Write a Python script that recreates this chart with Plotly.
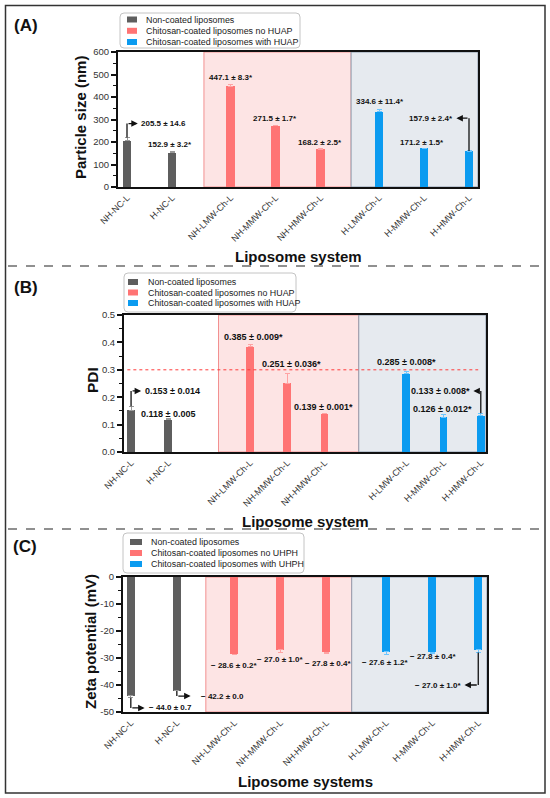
import plotly.graph_objects as go

W, H = 550, 798
FONT = "Liberation Sans, Arial, sans-serif"

# ── Data ──────────────────────────────────────────────────────────────────────
systems = ["NH-NC-L", "H-NC-L", "NH-LMW-Ch-L", "NH-MMW-Ch-L", "NH-HMW-Ch-L",
           "H-LMW-Ch-L", "H-MMW-Ch-L", "H-HMW-Ch-L"]
group_of = [0, 0, 1, 1, 1, 2, 2, 2]

size_mean = [205.5, 152.9, 447.1, 271.5, 168.2, 334.6, 171.2, 157.9]
size_sd = [14.6, 3.2, 8.3, 1.7, 2.5, 11.4, 1.5, 2.4]
size_sig = [False, True, True, True, True, True, True, True]

pdi_mean = [0.153, 0.118, 0.385, 0.251, 0.139, 0.285, 0.126, 0.133]
pdi_sd = [0.014, 0.005, 0.009, 0.036, 0.001, 0.008, 0.012, 0.008]
pdi_sig = [False, False, True, True, True, True, True, True]
PDI_LIMIT = 0.3

zeta_mean = [-44.0, -42.2, -28.6, -27.0, -27.8, -27.6, -27.8, -27.0]
zeta_sd = [0.7, 0.0, 0.2, 1.0, 0.4, 1.2, 0.4, 1.0]
zeta_sig = [False, False, True, True, True, True, True, True]

names_huap = ["Non-coated liposomes", "Chitosan-coated liposomes no HUAP",
              "Chitosan-coated liposomes with HUAP"]
names_uhph = ["Non-coated liposomes", "Chitosan-coated liposomes no UHPH",
              "Chitosan-coated liposomes with UHPH"]

# ── Style ─────────────────────────────────────────────────────────────────────
BAR = ["#5e5e5e", "#ff7474", "#0b9bf0"]
ERR = ["#9a9a9a", "#ffa3a3", "#6cc6ff"]
PINK_BG, PINK_LINE = "#fde4e4", "#f29090"
BLUE_BG, BLUE_LINE = "#e6eaef", "#8e9cae"


def fx(x):
    return x / W


def fy(y):
    return 1 - y / H


fig = go.Figure()
shapes, annos = [], []


def panel(n, mean, sd, sig, fmt, cfg):
    xa = "x" if n == 1 else f"x{n}"
    ya = "y" if n == 1 else f"y{n}"
    pos = cfg["pos"]
    for g in range(3):
        idx = [i for i in range(len(mean)) if group_of[i] == g]
        neg = mean[idx[0]] < 0
        fig.add_trace(go.Bar(
            x=[pos[i] for i in idx], y=[mean[i] for i in idx],
            width=cfg["bw"], marker_color=BAR[g], marker_line_width=0,
            error_y=dict(type="data", symmetric=False,
                         array=[0 if neg else sd[i] for i in idx],
                         arrayminus=[sd[i] if neg else 0 for i in idx],
                         color=ERR[g], thickness=1, width=2.5),
            xaxis=xa, yaxis=ya, showlegend=False,
        ))

    # shaded groups
    for (x0, x1, bg, ln) in [(cfg["pink"][0], cfg["pink"][1], PINK_BG, PINK_LINE),
                             (cfg["pink"][1], cfg["range"][1], BLUE_BG, BLUE_LINE)]:
        shapes.append(dict(type="rect", xref=xa, yref=f"{ya} domain", x0=x0, x1=x1,
                           y0=0, y1=1, fillcolor=bg, line=dict(color=ln, width=1),
                           layer="below"))

    # value labels
    for i, (lx, ly, anc) in enumerate(cfg["labels"]):
        txt = fmt(mean[i], sd[i]) + ("*" if sig[i] else "")
        annos.append(dict(xref=xa, yref=ya, x=lx, y=ly, text=f"<b>{txt}</b>",
                          showarrow=False, xanchor=anc,
                          font=dict(family=FONT, size=cfg["lab"], color="#111")))

    # elbow arrows
    for (i, y_to, x_head) in cfg["elbows"]:
        y_from = mean[i] - sd[i] if mean[i] < 0 else mean[i] + sd[i]
        shapes.append(dict(type="line", xref=xa, yref=ya, x0=pos[i], x1=pos[i],
                           y0=y_from, y1=y_to, line=dict(color="#111", width=1.3)))
        annos.append(dict(xref=xa, yref=ya, x=x_head, y=y_to, ax=pos[i], ay=y_to,
                          axref=xa, ayref=ya, text="", showarrow=True, arrowhead=2,
                          arrowsize=1, arrowwidth=1.3, arrowcolor="#111", standoff=0))

    d = cfg["dom"]
    fig.update_layout(**{
        ("xaxis" if n == 1 else f"xaxis{n}"): dict(
            domain=[fx(d[0]), fx(d[1])], range=cfg["range"], anchor=ya,
            tickvals=pos, ticktext=systems, tickangle=-45, ticks="",
            tickfont=dict(family=FONT, size=9, color="#333"),
            showline=True, linecolor="#111", linewidth=2, mirror=True,
            showgrid=False, zeroline=False, automargin=False),
        ("yaxis" if n == 1 else f"yaxis{n}"): dict(
            domain=[fy(d[3]), fy(d[2])], range=cfg["yrange"], anchor=xa,
            tickvals=cfg["yticks"], ticktext=cfg["yticktext"],
            ticks="outside", ticklen=5, tickwidth=1.5, tickcolor="#111",
            minor=dict(tickvals=cfg["yminor"], ticks="outside", ticklen=3,
                       tickwidth=1.2, tickcolor="#111"),
            tickfont=dict(family=FONT, size=9.5, color="#333"),
            showline=True, linecolor="#111", linewidth=2, mirror=True,
            showgrid=False, zeroline=False, automargin=False),
    })


def rounded_box(x0, x1, y0, y1, r=4):
    # rounded rectangle as an svg path in paper units (pixel inputs)
    a, b, c, d = fx(x0), fx(x1), fy(y0), fy(y1)
    rx, ry = r / W, r / H
    return (f"M{a + rx},{c} L{b - rx},{c} Q{b},{c} {b},{c - ry} "
            f"L{b},{d + ry} Q{b},{d} {b - rx},{d} L{a + rx},{d} "
            f"Q{a},{d} {a},{d + ry} L{a},{c - ry} Q{a},{c} {a + rx},{c} Z")


def legend(box, rows, sw, tx, names):
    shapes.append(dict(type="path", xref="paper", yref="paper",
                       path=rounded_box(*box), fillcolor="white",
                       line=dict(color="#c4c4c4", width=1)))
    for g, ry in enumerate(rows):
        shapes.append(dict(type="rect", xref="paper", yref="paper",
                           x0=fx(sw[0]), x1=fx(sw[1]), y0=fy(ry + 3), y1=fy(ry - 3),
                           fillcolor=BAR[g], line=dict(width=0)))
        annos.append(dict(xref="paper", yref="paper", x=fx(tx), y=fy(ry),
                          text=names[g], showarrow=False, xanchor="left",
                          yanchor="middle",
                          font=dict(family=FONT, size=8.9, color="#1a1a1a")))


def text(x, y, s, size, angle=0, anchor="center"):
    annos.append(dict(xref="paper", yref="paper", x=fx(x), y=fy(y), text=s,
                      showarrow=False, textangle=angle, xanchor=anchor,
                      yanchor="middle", font=dict(family=FONT, size=size, color="#111")))


# ── Panel A: particle size ────────────────────────────────────────────────────
posA = [0, 1, 2.3, 3.3, 4.3, 5.6, 6.6, 7.6]
panel(1, size_mean, size_sd, size_sig, lambda m, s: f"{m:.1f} ± {s:.1f}", dict(
    dom=(118, 478, 52, 187), range=[-0.2, 7.8], pos=posA, bw=0.19,
    pink=(1.71, 4.98), yrange=[0, 600],
    yticks=[0, 100, 200, 300, 400, 500, 600],
    yticktext=["0", "100", "200", "300", "400", "500", "600"],
    yminor=[50, 150, 250, 350, 450, 550], lab=8,
    labels=[(0.27, 282, "left"), (0.96, 191, "center"), (2.3, 488, "center"),
            (3.29, 306, "center"), (4.29, 200, "center"), (5.62, 382, "center"),
            (6.56, 200, "center"), (7.29, 306, "right")],
    elbows=[(0, 282, 0.24), (7, 306, 7.32)],
))
legend((120, 300, 13, 48), [19.5, 30.8, 42], (127, 137), 144, names_huap)

# ── Panel B: PDI ──────────────────────────────────────────────────────────────
posB = [0, 1, 3.2, 4.2, 5.2, 7.4, 8.4, 9.4]
panel(2, pdi_mean, pdi_sd, pdi_sig, lambda m, s: f"{m:.3f} ± {s:.3f}", dict(
    dom=(124, 486, 315, 452), range=[-0.19, 9.54], pos=posB, bw=0.21,
    pink=(2.35, 6.12), yrange=[0, 0.5],
    yticks=[0, 0.1, 0.2, 0.3, 0.4, 0.5],
    yticktext=["0.0", "0.1", "0.2", "0.3", "0.4", "0.5"],
    yminor=[0.05, 0.15, 0.25, 0.35, 0.45], lab=9,
    labels=[(0.32, 0.223, "left"), (1.0, 0.139, "center"), (3.28, 0.42, "center"),
            (4.3, 0.321, "center"), (5.16, 0.164, "center"), (7.39, 0.328, "center"),
            (8.36, 0.157, "center"), (9.17, 0.223, "right")],
    elbows=[(0, 0.223, 0.27), (7, 0.223, 9.2)],
))
shapes.append(dict(type="line", xref="x2", yref="y2", x0=-0.1, x1=9.33,
                   y0=PDI_LIMIT, y1=PDI_LIMIT,
                   line=dict(color="#ff3b3b", width=1, dash="dot")))
legend((124, 296, 273, 312), [282, 292.5, 303], (128, 138), 146, names_huap)

# ── Panel C: zeta potential ───────────────────────────────────────────────────
posC = [0, 1, 2.25, 3.25, 4.25, 5.55, 6.55, 7.55]
panel(3, zeta_mean, zeta_sd, zeta_sig, lambda m, s: f"− {abs(m):.1f} ± {s:.1f}", dict(
    dom=(123, 487, 577, 712), range=[-0.17, 7.74], pos=posC, bw=0.17,
    pink=(1.63, 4.8), yrange=[-50, 0],
    yticks=[-50, -40, -30, -20, -10, 0],
    yticktext=["-50", "-40", "-30", "-20", "-10", "0"],
    yminor=[-45, -35, -25, -15, -5], lab=8,
    labels=[(0.35, -48.5, "left"), (1.48, -44.1, "left"), (2.25, -32.6, "center"),
            (3.25, -30.4, "center"), (4.29, -31.9, "center"), (5.53, -31.5, "center"),
            (6.57, -29.6, "center"), (7.22, -40, "right")],
    elbows=[(0, -48.5, 0.3), (1, -44.1, 1.3), (7, -40, 7.25)],
))
legend((123, 304, 533, 573), [542, 553, 564], (130, 142), 149, names_uhph)

# ── Titles, panel letters, frame ──────────────────────────────────────────────
text(26, 26, "<b>(A)</b>", 17)
text(26, 287, "<b>(B)</b>", 17)
text(25, 546, "<b>(C)</b>", 17)
text(80, 118, "<b>Particle size (nm)</b>", 15, angle=-90)
text(92, 380, "<b>PDI</b>", 15.5, angle=-90)
text(90, 642, "<b>Zeta potential (mV)</b>", 15, angle=-90)
text(299, 256, "<b>Liposome system</b>", 15)
text(305, 521, "<b>Liposome system</b>", 15)
text(305, 781, "<b>Liposome systems</b>", 15)

for yy in (266, 529):
    shapes.append(dict(type="line", xref="paper", yref="paper", x0=fx(8), x1=fx(543),
                       y0=fy(yy), y1=fy(yy),
                       line=dict(color="#222", width=1.2, dash="dash")))
shapes.append(dict(type="rect", xref="paper", yref="paper", x0=fx(5.5), x1=fx(545),
                   y0=fy(793), y1=fy(5.5), line=dict(color="#333", width=1.5)))

fig.update_layout(
    width=W, height=H, margin=dict(l=0, r=0, t=0, b=0),
    paper_bgcolor="white", plot_bgcolor="rgba(0,0,0,0)",
    bargap=0, shapes=shapes, annotations=annos, showlegend=False,
    font=dict(family=FONT),
)

# page body has a default 8px margin; drop it so the figure fills the window
fig.write_html("out.html", config={"displayModeBar": False},
               post_script="document.body.style.margin='0';")
